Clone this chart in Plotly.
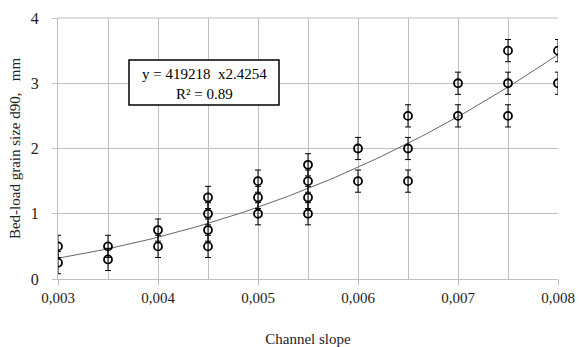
import numpy as np
import plotly.graph_objects as go

# Data
slope = [0.003, 0.003,
         0.0035, 0.0035,
         0.004, 0.004,
         0.0045, 0.0045, 0.0045, 0.0045,
         0.005, 0.005, 0.005,
         0.0055, 0.0055, 0.0055, 0.0055,
         0.006, 0.006,
         0.0065, 0.0065, 0.0065,
         0.007, 0.007,
         0.0075, 0.0075, 0.0075,
         0.008, 0.008]
d90 = [0.5, 0.25,
       0.5, 0.3,
       0.75, 0.5,
       1.25, 1.0, 0.75, 0.5,
       1.5, 1.25, 1.0,
       1.75, 1.5, 1.25, 1.0,
       2.0, 1.5,
       2.5, 2.0, 1.5,
       3.0, 2.5,
       3.5, 3.0, 2.5,
       3.5, 3.0]
err = 0.17

# Power trendline from the chart's equation
coef_a = 419218
coef_b = 2.4254
fit_x = np.linspace(0.003, 0.008, 100)
fit_y = coef_a * fit_x ** coef_b

FONT = "Liberation Serif"
GRID = "#bfbfbf"

fig = go.Figure()
fig.add_trace(go.Scatter(
    x=fit_x, y=fit_y, mode="lines",
    line=dict(color="#666666", width=1),
    hoverinfo="skip", showlegend=False))
fig.add_trace(go.Scatter(
    x=slope, y=d90, mode="markers",
    marker=dict(symbol="circle-open", size=8, color="black",
                line=dict(width=1.8, color="black")),
    error_y=dict(type="constant", value=err, color="black",
                 thickness=1, width=3),
    showlegend=False))

fig.update_layout(
    width=579, height=347,
    margin=dict(l=58, r=21, t=18, b=68, autoexpand=False),
    plot_bgcolor="white", paper_bgcolor="white",
    separators=", ",
    font=dict(family=FONT, color="#222222", size=15),
    xaxis=dict(
        range=[0.003, 0.008], dtick=0.001, tick0=0.003,
        tickformat=".3f",
        showgrid=True, gridcolor=GRID, gridwidth=1,
        minor=dict(dtick=0.0005, showgrid=True, gridcolor=GRID),
        showline=True, linecolor=GRID, linewidth=1,
        ticks="outside", ticklen=5, tickcolor=GRID,
        tickfont=dict(size=15, family=FONT),
        zeroline=False, automargin=False,
        title=dict(text="Channel slope", font=dict(size=15, family=FONT),
                   standoff=28),
    ),
    yaxis=dict(
        range=[0, 4], dtick=1,
        showgrid=True, gridcolor=GRID, gridwidth=1,
        showline=True, linecolor=GRID, linewidth=1,
        ticks="outside", ticklen=5, tickcolor=GRID,
        ticklabelstandoff=10,
        tickfont=dict(size=16, family=FONT),
        zeroline=False, automargin=False,
        title=dict(text="Bed-load grain size d90,   mm",
                   font=dict(size=15, family=FONT), standoff=6),
    ),
    shapes=[
        dict(type="line", xref="paper", yref="paper",
             x0=0, x1=1, y0=1, y1=1, line=dict(color=GRID, width=1)),
        dict(type="rect", xref="paper", yref="paper",
             x0=0.142, x1=0.442, y0=0.667, y1=0.839,
             fillcolor="white", line=dict(color="black", width=1.5),
             layer="above"),
    ],
    annotations=[dict(
        xref="paper", yref="paper", x=0.292, y=0.749,
        xanchor="center", yanchor="middle",
        text="y = 419218  x2.4254<br>R² = 0.89",
        showarrow=False, align="center",
        font=dict(size=15, family=FONT, color="black"))],
)

fig.write_html("out.html", config={"displayModeBar": False},
               post_script="document.body.style.margin='0';")
